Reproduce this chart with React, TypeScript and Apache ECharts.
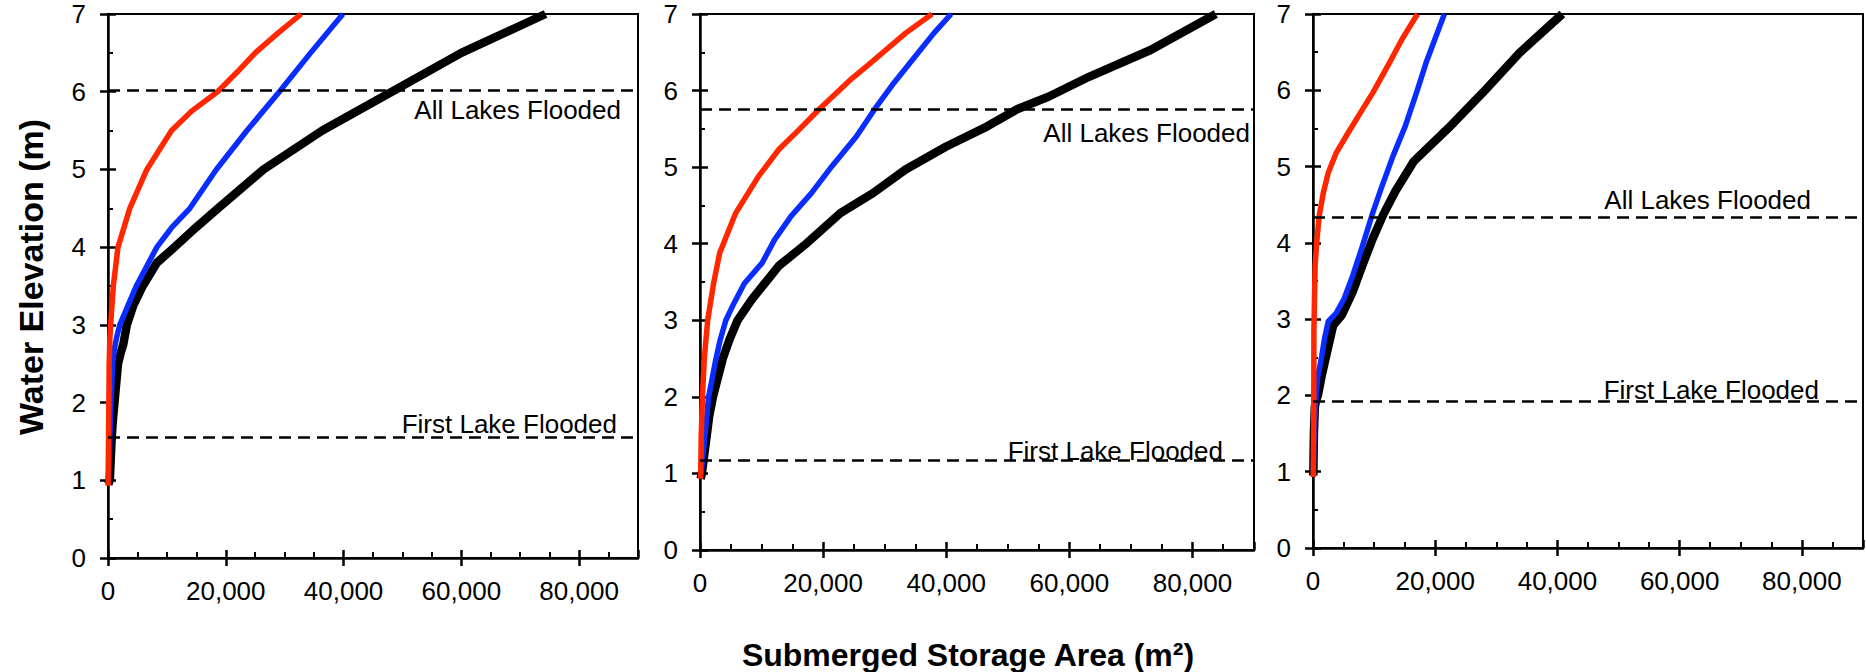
import { useEffect, useRef } from "react";
import * as echarts from "echarts";

const FONT = '"Liberation Sans", Arial, Helvetica, sans-serif';

// x: submerged storage area (m²), y: water elevation (m)
const xMax = 90000;
const xInterval = 20000;
const yMax = 7;
const yInterval = 1;

// Panel 1
const p1Black: [number, number][] = [
  [50, 0.95], [300, 1.0], [600, 1.5], [800, 1.75], [1100, 2.0], [1700, 2.5], [2200, 2.65], [2600, 2.75],
  [3200, 3.0], [4300, 3.25], [5900, 3.5], [8300, 3.8], [11300, 4.0], [14900, 4.25], [18700, 4.5],
  [26400, 5.0], [36400, 5.5], [48200, 6.0], [60000, 6.5], [74300, 7.0],
];
const p1Blue: [number, number][] = [
  [100, 1.0], [300, 1.5], [500, 2.0], [800, 2.5], [1100, 2.7], [1500, 2.85], [2000, 3.0], [3400, 3.25],
  [4800, 3.5], [6200, 3.7], [8300, 4.0], [10800, 4.25], [13900, 4.5], [18400, 5.0], [23600, 5.5],
  [29100, 6.0], [34400, 6.5], [39900, 7.0],
];
const p1Red: [number, number][] = [
  [0, 0.93], [50, 1.2], [100, 1.6], [150, 2.0], [200, 2.5], [300, 2.8], [450, 3.0], [900, 3.5],
  [1700, 4.0], [3700, 4.5], [6600, 5.0], [10800, 5.5], [14200, 5.75], [18600, 6.0], [21900, 6.25],
  [25000, 6.5], [28800, 6.75], [32800, 7.0],
];

// Panel 2
const p2Black: [number, number][] = [
  [100, 0.93], [300, 1.0], [700, 1.25], [1100, 1.5], [1500, 1.75], [2100, 2.0], [2900, 2.25], [3700, 2.5],
  [4800, 2.75], [6100, 3.0], [8400, 3.27], [10500, 3.48], [12800, 3.71], [17400, 4.01], [22800, 4.4],
  [28100, 4.66], [33400, 4.97], [40000, 5.27], [46600, 5.53], [51600, 5.76], [56600, 5.92],
  [63200, 6.18], [73200, 6.53], [83800, 7.0],
];
const p2Blue: [number, number][] = [
  [200, 1.0], [500, 1.25], [800, 1.5], [1100, 1.75], [1400, 2.0], [2000, 2.25], [2600, 2.5], [3300, 2.75],
  [4200, 3.0], [5500, 3.22], [7200, 3.48], [10100, 3.75], [12100, 4.05], [14800, 4.36], [18100, 4.66],
  [21400, 5.01], [25400, 5.4], [28400, 5.76], [31500, 6.1], [35500, 6.5], [38000, 6.75], [40800, 7.0],
];
const p2Red: [number, number][] = [
  [100, 0.93], [200, 1.5], [400, 2.0], [700, 2.5], [1250, 3.0], [2200, 3.48], [3200, 3.88], [4300, 4.1],
  [5800, 4.4], [9500, 4.88], [12800, 5.23], [16100, 5.49], [19400, 5.76], [24700, 6.16], [27400, 6.34],
  [33400, 6.75], [37700, 7.0],
];

// Panel 3
const p3Black: [number, number][] = [
  [50, 0.95], [150, 1.5], [300, 1.85], [500, 1.93], [800, 2.0], [1400, 2.25], [2100, 2.5], [3300, 2.92],
  [4700, 3.05], [6500, 3.36], [8100, 3.71], [9800, 4.06], [11500, 4.37], [13500, 4.68], [16500, 5.07],
  [22100, 5.5], [27800, 5.97], [33800, 6.49], [40800, 7.0],
];
const p3Blue: [number, number][] = [
  [50, 1.0], [200, 1.5], [500, 2.0], [800, 2.25], [1400, 2.5], [1900, 2.75], [2500, 2.97], [3800, 3.08],
  [5100, 3.27], [6500, 3.57], [8100, 3.96], [9800, 4.4], [11100, 4.7], [13100, 5.14], [15100, 5.53],
  [17100, 6.01], [18500, 6.36], [21500, 7.0],
];
const p3Red: [number, number][] = [
  [50, 0.93], [100, 1.5], [130, 2.0], [150, 2.84], [250, 3.3], [350, 3.7], [600, 4.0], [1000, 4.35],
  [1700, 4.66], [2500, 4.92], [3800, 5.18], [5800, 5.45], [7800, 5.71], [9800, 5.97], [12500, 6.36],
  [14500, 6.66], [17100, 7.0],
];

// Reference elevations (m)
const allLakesFlooded = [6.02, 5.76, 4.34];
const firstLakeFlooded = [1.56, 1.17, 1.93];
const allLakesLabel = "All Lakes Flooded";
const firstLakeLabel = "First Lake Flooded";

const panelData = [
  { black: p1Black, blue: p1Blue, red: p1Red },
  { black: p2Black, blue: p2Blue, red: p2Red },
  { black: p3Black, blue: p3Blue, red: p3Red },
];

// layout
const grids = [
  { left: 108, top: 14, width: 530, height: 544 },
  { left: 700, top: 14, width: 554, height: 536 },
  { left: 1313, top: 14, width: 550, height: 534 },
];
const allLabelPos = [
  { position: "insideEndBottom", distance: [17, 7] },
  { position: "insideEndBottom", distance: [4, 11] },
  { position: "insideEndTop", distance: [52, 4] },
];
const firstLabelPos = [
  { position: "insideEndTop", distance: [21, 0] },
  { position: "insideEndTop", distance: [31, -4] },
  { position: "insideEndTop", distance: [44, -2] },
];

export default function App() {
  const ref = useRef<HTMLDivElement>(null);

  useEffect(() => {
    if (!ref.current) return;
    const chart = echarts.init(ref.current, undefined, { renderer: "svg" });

    const axisLineStyle = { color: "#000", width: 2.5 };
    const xAxes: any[] = [];
    const yAxes: any[] = [];
    const series: any[] = [];

    grids.forEach((_, i) => {
      xAxes.push({
        type: "value",
        gridIndex: i,
        position: "bottom",
        min: 0,
        max: xMax,
        interval: xInterval,
        axisLine: { show: true, onZero: false, lineStyle: axisLineStyle },
        axisTick: { show: true, inside: false, length: 8, lineStyle: axisLineStyle },
        axisLabel: {
          show: true,
          color: "#000",
          fontSize: 26,
          fontFamily: FONT,
          margin: 20,
          showMaxLabel: false,
          formatter: (v: number) => v.toLocaleString("en-US"),
        },
        splitLine: { show: false },
      });
      xAxes.push({
        type: "value",
        gridIndex: i,
        position: "bottom",
        min: 0,
        max: xMax,
        interval: xInterval,
        axisLine: { show: false, onZero: false },
        axisTick: { show: true, inside: true, length: 8, lineStyle: axisLineStyle },
        minorTick: { show: true, splitNumber: 4, length: 6, lineStyle: { color: "#000", width: 2 } },
        axisLabel: { show: false },
        splitLine: { show: false },
      });
      yAxes.push({
        type: "value",
        gridIndex: i,
        position: "left",
        min: 0,
        max: yMax,
        interval: yInterval,
        axisLine: { show: true, onZero: false, lineStyle: axisLineStyle },
        axisTick: { show: true, inside: false, length: 8, lineStyle: axisLineStyle },
        axisLabel: { show: true, color: "#000", fontSize: 26, fontFamily: FONT, margin: 22 },
        splitLine: { show: false },
      });
      yAxes.push({
        type: "value",
        gridIndex: i,
        position: "left",
        min: 0,
        max: yMax,
        interval: yInterval,
        axisLine: { show: false, onZero: false },
        axisTick: { show: true, inside: true, length: 8, lineStyle: axisLineStyle },
        minorTick: { show: true, splitNumber: 2, length: 5, lineStyle: { color: "#000", width: 2 } },
        axisLabel: { show: false },
        splitLine: { show: false },
      });

      const d = panelData[i];
      const base = {
        type: "line",
        xAxisIndex: 2 * i,
        yAxisIndex: 2 * i,
        showSymbol: false,
        symbol: "none",
        clip: true,
        silent: true,
      };
      series.push({
        ...base,
        name: `Panel ${i + 1} black`,
        data: d.black,
        z: 2,
        lineStyle: { color: "#000", width: 8.5, join: "round" },
        markLine: {
          symbol: ["none", "none"],
          silent: true,
          lineStyle: { type: [12, 7], color: "#000", width: 2.5 },
          label: { show: true, color: "#000", fontSize: 26, fontFamily: FONT },
          emphasis: { disabled: true },
          data: [
            {
              yAxis: allLakesFlooded[i],
              label: { formatter: allLakesLabel, ...allLabelPos[i] },
            },
            {
              yAxis: firstLakeFlooded[i],
              label: { formatter: firstLakeLabel, ...firstLabelPos[i] },
            },
          ],
        },
      });
      series.push({
        ...base,
        name: `Panel ${i + 1} blue`,
        data: d.blue,
        z: 3,
        lineStyle: { color: "#0a2dff", width: 5.5, join: "round" },
      });
      series.push({
        ...base,
        name: `Panel ${i + 1} red`,
        data: d.red,
        z: 4,
        lineStyle: { color: "#ff2600", width: 5.5, join: "round" },
      });
    });

    chart.setOption({
      animation: false,
      backgroundColor: "#fff",
      grid: grids.map((g) => ({
        ...g,
        show: true,
        borderColor: "#000",
        borderWidth: 2,
        backgroundColor: "transparent",
        containLabel: false,
      })),
      xAxis: xAxes,
      yAxis: yAxes,
      series,
      graphic: [
        {
          type: "text",
          x: 31,
          y: 277,
          rotation: Math.PI / 2,
          style: {
            text: "Water Elevation (m)",
            font: `bold 34px ${FONT}`,
            fill: "#000",
            textAlign: "center",
            textVerticalAlign: "middle",
          },
        },
        {
          type: "text",
          x: 968,
          y: 655,
          style: {
            text: "Submerged Storage Area (m²)",
            font: `bold 32px ${FONT}`,
            fill: "#000",
            textAlign: "center",
            textVerticalAlign: "middle",
          },
        },
      ],
    });

    return () => {
      chart.dispose();
    };
  }, []);

  return (
    <div
      ref={ref}
      style={{ position: "absolute", left: 0, top: 0, width: 1866, height: 672, background: "#fff" }}
    />
  );
}
